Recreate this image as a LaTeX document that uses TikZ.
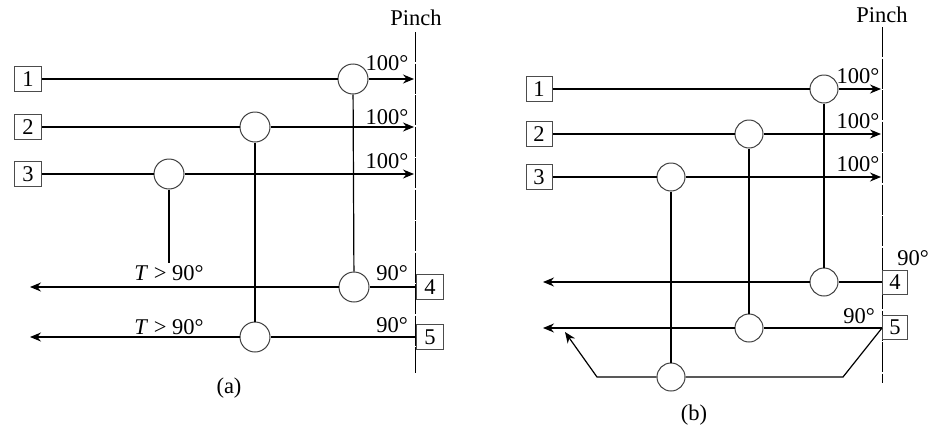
\documentclass[tikz,border=0pt]{standalone}
\usepackage{fontspec}
\setmainfont{Liberation Serif}
\usetikzlibrary{arrows.meta}
\begin{document}
\begin{tikzpicture}[x=1pt,y=-1pt,
  line width=1.2pt,
  numbox/.style={draw=black!70, line width=1pt, minimum width=27pt, minimum height=25pt, inner sep=0pt, font=\fontsize{22.5}{22.5}\selectfont},
  hx/.style={circle, draw=black!75, line width=1pt, minimum size=30pt, inner sep=0pt},
  hxb/.style={hx, minimum size=28pt},
  lbl/.style={inner sep=0pt, font=\fontsize{22.5}{22.5}\selectfont},
  arr/.style={-{Stealth[length=11pt,width=9pt]}},
  pinchline/.style={line width=1pt, dash pattern=on 30pt off 1.5pt}
]
\useasboundingbox (0,0) rectangle (930,426);

% ---------------- panel (a) ----------------
\coordinate (apt) at (415,32);
\coordinate (apb) at (415,373);
\draw[pinchline] (apt) -- (apb);
\node[lbl] (apinch) at (416,18) {Pinch};

\node[numbox] (a1) at (28,79) {1};
\node[numbox] (a2) at (28,127) {2};
\node[numbox] (a3) at (28,174) {3};
\node[numbox, anchor=west] (a4) at (416,287) {4};
\node[numbox, anchor=west] (a5) at (416,337) {5};

\node[hx] (ah1) at (353,79) {};
\node[hx] (ah2) at (255,127) {};
\node[hx] (ah3) at (169,174) {};
\node[hx] (ah4) at (354,287) {};
\node[hx] (ah5) at (255,337) {};

\coordinate (ap1) at (414,79);
\coordinate (ap2) at (414,127);
\coordinate (ap3) at (414,174);
\coordinate (ae4) at (30,287);
\coordinate (ae5) at (30,337);
\coordinate (ah3end) at (169,263);

\draw (a1) -- (ah1);
\draw[arr] (ah1) -- (ap1);
\draw (a2) -- (ah2);
\draw[arr] (ah2) -- (ap2);
\draw (a3) -- (ah3);
\draw[arr] (ah3) -- (ap3);
\draw (a4.west) -- (ah4);
\draw[arr] (ah4) -- (ae4);
\draw (a5.west) -- (ah5);
\draw[arr] (ah5) -- (ae5);
\draw (ah1) -- (ah4);
\draw (ah2) -- (ah5);
\draw (ah3) -- (ah3end);

\node[lbl] (at1) at (387,63) {100°};
\node[lbl] (at2) at (387,117) {100°};
\node[lbl] (at3) at (387,161) {100°};
\node[lbl] (at4) at (392,273) {90°};
\node[lbl] (at5) at (392,325) {90°};
\node[lbl] (aT4) at (169,273) {\textit{T} > 90°};
\node[lbl] (aT5) at (169,327) {\textit{T} > 90°};
\node[lbl] (acap) at (229,388) {(a)};

% ---------------- panel (b) ----------------
\coordinate (bpt) at (882,27);
\coordinate (bpb) at (882,383);
\draw[pinchline] (bpt) -- (bpb);
\node[lbl] (bpinch) at (882,15) {Pinch};

\node[numbox, minimum width=26pt] (b1) at (539,89) {1};
\node[numbox, minimum width=26pt] (b2) at (539,134) {2};
\node[numbox, minimum width=26pt] (b3) at (539,177) {3};
\node[numbox, minimum width=25pt, minimum height=24pt, anchor=west] (b4) at (882,282) {4};
\node[numbox, minimum width=25pt, minimum height=24pt, anchor=west] (b5) at (882,327) {5};

\node[hxb] (bh1) at (824,89) {};
\node[hxb] (bh2) at (749,134) {};
\node[hxb] (bh3) at (671,177) {};
\node[hxb] (bh4) at (824,282) {};
\node[hxb] (bh5) at (749,328) {};
\node[hxb] (bh6) at (671,377) {};

\coordinate (bp1) at (881,89);
\coordinate (bp2) at (881,134);
\coordinate (bp3) at (881,177);
\coordinate (be4) at (543,282);
\coordinate (be5) at (543,328);
\coordinate (bs5) at (882,328);
\coordinate (bl1) at (843,377);
\coordinate (bl2) at (597,377);
\coordinate (bl3) at (565,332);

\draw (b1) -- (bh1);
\draw[arr] (bh1) -- (bp1);
\draw (b2) -- (bh2);
\draw[arr] (bh2) -- (bp2);
\draw (b3) -- (bh3);
\draw[arr] (bh3) -- (bp3);
\draw (b4.west) -- (bh4);
\draw[arr] (bh4) -- (be4);
\draw (bs5) -- (bh5);
\draw[arr] (bh5) -- (be5);
\draw (bs5) -- (bl1) -- (bh6);
\draw[arr] (bh6) -- (bl2) -- (bl3);
\draw (bh1) -- (bh4);
\draw (bh2) -- (bh5);
\draw (bh3) -- (bh6);

\node[lbl] (bt1) at (858,76) {100°};
\node[lbl] (bt2) at (858,121) {100°};
\node[lbl] (bt3) at (858,164) {100°};
\node[lbl] (bt4) at (913,258) {90°};
\node[lbl] (bt5) at (859,316) {90°};
\node[lbl] (bcap) at (694,415) {(b)};
\end{tikzpicture}
\end{document}
